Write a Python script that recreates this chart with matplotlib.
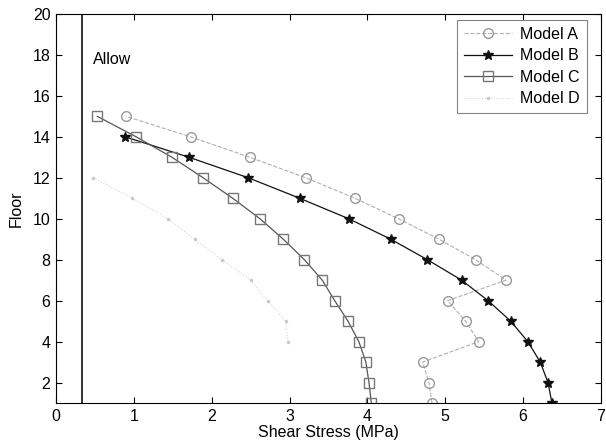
import numpy as np
import matplotlib
matplotlib.use("Agg")
import matplotlib.pyplot as plt

plt.rcParams['font.family'] = ['Liberation Sans', 'DejaVu Sans']

floors = np.arange(1, 16)
floors_b = np.arange(1, 15)
floors_d = np.arange(4, 13)

# shear stress (MPa), from floor 1 upward
model_a = [4.83, 4.79, 4.71, 5.43, 5.26, 5.03, 5.78, 5.39, 4.92, 4.40, 3.84, 3.21, 2.49, 1.73, 0.90]
model_b = [6.37, 6.32, 6.22, 6.06, 5.84, 5.55, 5.21, 4.77, 4.30, 3.76, 3.13, 2.47, 1.71, 0.89]
model_c = [4.05, 4.02, 3.98, 3.89, 3.75, 3.58, 3.42, 3.19, 2.92, 2.62, 2.27, 1.89, 1.49, 1.03, 0.53]
model_d = [2.98, 2.95, 2.72, 2.50, 2.13, 1.78, 1.44, 0.98, 0.48]
allow = 0.33

fig = plt.figure(figsize=(6.06, 4.48), dpi=100)
ax = fig.add_axes([0.0924, 0.1004, 0.8993, 0.8684])

ax.plot(model_a, floors, linestyle='--', color='#b0b0b0', linewidth=0.8,
        marker='o', markersize=7, markerfacecolor='none', markeredgecolor='#999999',
        label='Model A')
ax.plot(model_b, floors_b, linestyle='-', color='#111111', linewidth=0.9,
        marker='*', markersize=7, markerfacecolor='#111111', markeredgecolor='#111111',
        label='Model B')
ax.plot(model_c, floors, linestyle='-', color='#555555', linewidth=0.9,
        marker='s', markersize=7, markerfacecolor='none', markeredgecolor='#777777',
        label='Model C')
ax.plot(model_d, floors_d, linestyle=':', color='#d4d4d4', linewidth=0.8,
        marker='.', markersize=3, markerfacecolor='#c8c8c8', markeredgecolor='#c8c8c8',
        label='Model D')

ax.axvline(allow, color='#222222', linewidth=1.3)
ax.text(0.48, 17.8, 'Allow', fontsize=11.5, ha='left', va='center')

ax.set_xlim(0, 7)
ax.set_ylim(1, 20)
ax.set_xticks(range(0, 8))
ax.set_yticks(range(2, 21, 2))
ax.tick_params(direction='in', top=True, right=True, labelsize=11.5, length=4, pad=4)
ax.set_xlabel('Shear Stress (MPa)', fontsize=11.5, labelpad=1)
ax.set_ylabel('Floor', fontsize=11.5, labelpad=6)

leg = ax.legend(loc='upper right', bbox_to_anchor=(0.974, 0.985), borderaxespad=0,
                fontsize=11.5, frameon=True, fancybox=False, edgecolor='#666666',
                handlelength=3.0, handletextpad=0.5, labelspacing=0.4, borderpad=0.45)
leg.get_frame().set_linewidth(0.8)

fig.savefig('out.png', dpi=100)
